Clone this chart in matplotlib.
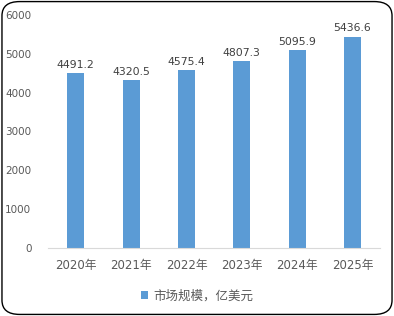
import matplotlib.pyplot as plt
from matplotlib.patches import FancyBboxPatch

plt.rcParams['font.family'] = ['DejaVu Sans', 'Noto Sans CJK SC']

# Data
years = ['2020年', '2021年', '2022年', '2023年', '2024年', '2025年']
market_size = [4491.2, 4320.5, 4575.4, 4807.3, 5095.9, 5436.6]
series_name = '市场规模，亿美元'

bar_color = '#5B9BD5'
text_color = '#595959'

fig = plt.figure(figsize=(3.94, 3.16), dpi=100)
ax = fig.add_axes([0.122, 0.215, 0.843, 0.738])

bars = ax.bar(years, market_size, width=0.31, color=bar_color, label=series_name)
for rect, v in zip(bars, market_size):
    ax.annotate(f'{v:.1f}', (rect.get_x() + rect.get_width() / 2, v),
                xytext=(0, 2.5), textcoords='offset points',
                ha='center', va='bottom', fontsize=7.8, color='#404040')

ax.set_ylim(0, 6000)
ax.set_yticks(range(0, 6001, 1000))
ax.set_xlim(-0.5, len(years) - 0.5)
ax.tick_params(axis='both', length=0, colors=text_color)
ax.tick_params(axis='x', pad=8, labelsize=8.5)
ax.tick_params(axis='y', pad=12, labelsize=7.5)
for s in ['top', 'right', 'left']:
    ax.spines[s].set_visible(False)
ax.spines['bottom'].set_color('#D9D9D9')

leg = fig.legend(loc='center', bbox_to_anchor=(0.5, 0.063), frameon=False,
                 fontsize=9, handlelength=0.6, handleheight=0.6,
                 handletextpad=0.4, labelcolor=text_color)

# rounded outer border
border = FancyBboxPatch((0.005, 0.005), 0.99, 0.99,
                        boxstyle='round,pad=0,rounding_size=0.045',
                        transform=fig.transFigure, facecolor='none',
                        edgecolor='black', linewidth=1.0)
fig.patches.append(border)

fig.savefig('out.png', dpi=100)
